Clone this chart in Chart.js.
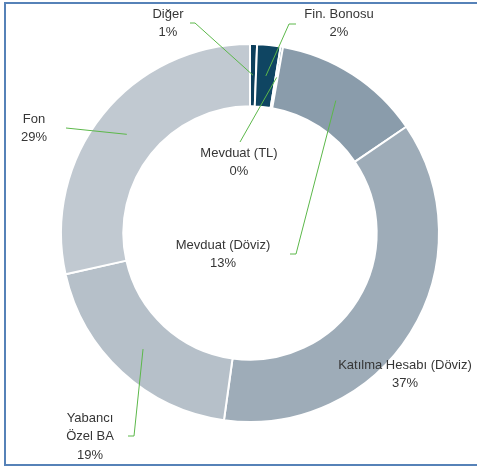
<!DOCTYPE html>
<html>
<head>
<meta charset="utf-8">
<script src="https://cdn.jsdelivr.net/npm/chart.js@4/dist/chart.umd.min.js"></script>
<style>
  body { margin: 0; background: #fff; }
  #wrap { position: relative; width: 477px; height: 473px; overflow: hidden; }
  #frame { position: absolute; left: 4px; top: 2px; width: 520px; height: 464px;
           border: 2px solid #5682b8; box-sizing: border-box; }
  #graphic { position: absolute; left: 0; top: 0; }
</style>
</head>
<body>
<div id="wrap">
  <div id="frame"></div>
  <canvas id="graphic" width="477" height="473"></canvas>
</div>
<script>
// portföy dağılımı (%)
var kategoriler = ['Diğer', 'Fin. Bonosu', 'Mevduat (TL)', 'Mevduat (Döviz)', 'Katılma Hesabı (Döviz)', 'Yabancı Özel BA', 'Fon'];
var oranlar = [0.6, 2.0, 0.2, 12.7, 36.7, 19.3, 28.5];
var renkler = ['#0d3f5c', '#0f4562', '#0f4562', '#8a9cab', '#9eacb8', '#b6c0c9', '#c1c9d1'];

// etiket yerleşimi: satırlar, metin merkezi ve kılavuz çizgisinin kırılma noktaları
var etiketSatirlari = [['Diğer'], ['Fin. Bonosu'], ['Mevduat (TL)'], ['Mevduat (Döviz)'], ['Katılma Hesabı (Döviz)'], ['Yabancı', 'Özel BA'], ['Fon']];
var etiketYeri = [
    {x: 168, y: 14, cizgi: [[190, 23], [195, 23]]},
    {x: 339, y: 14, cizgi: [[296, 24], [289, 24]]},
    {x: 239, y: 153, cizgi: [[240, 142]]},
    {x: 223, y: 245, cizgi: [[290, 254], [296, 254]]},
    {x: 405, y: 365, cizgi: null},
    {x: 90, y: 418, cizgi: [[128, 436], [134, 436]]},
    {x: 34, y: 119, cizgi: [[66, 128]]}
];

var etiketPlugin = {
    id: 'etiketler',
    afterDatasetsDraw: function(chart) {
        var c = chart.ctx;
        var arcs = chart.getDatasetMeta(0).data;
        c.save();
        arcs.forEach(function(arc, i) {
            var p = arc.getProps(['x', 'y', 'startAngle', 'endAngle', 'innerRadius', 'outerRadius'], true);
            var a = (p.startAngle + p.endAngle) / 2;
            var r = (p.innerRadius + p.outerRadius) / 2;
            var yer = etiketYeri[i];
            if (!yer.cizgi) return;
            c.strokeStyle = '#5cb84a';
            c.lineWidth = 1;
            c.beginPath();
            yer.cizgi.forEach(function(n, k) {
                if (k === 0) c.moveTo(n[0], n[1]); else c.lineTo(n[0], n[1]);
            });
            c.lineTo(p.x + Math.cos(a) * r, p.y + Math.sin(a) * r);
            c.stroke();
        });
        c.fillStyle = '#363636';
        c.font = '13px "Liberation Sans", Arial, sans-serif';
        c.textAlign = 'center';
        c.textBaseline = 'middle';
        oranlar.forEach(function(v, i) {
            var satirlar = etiketSatirlari[i].concat([Math.round(v) + '%']);
            satirlar.forEach(function(s, j) {
                c.fillText(s, etiketYeri[i].x, etiketYeri[i].y + j * 18.5);
            });
        });
        c.restore();
    }
};

var chartGraph = new Chart(document.getElementById('graphic'), {
    type: 'doughnut',
    data: {
        labels: kategoriler,
        datasets: [{
            data: oranlar,
            backgroundColor: renkler,
            borderColor: '#ffffff',
            borderWidth: 2,
            hoverOffset: 0
        }]
    },
    options: {
        responsive: false,
        animation: false,
        radius: 189,
        cutout: 126,
        layout: {padding: {left: 61, right: 38, top: 44, bottom: 51}},
        plugins: {
            legend: {display: false},
            tooltip: {enabled: false}
        }
    },
    plugins: [etiketPlugin]
});
</script>
</body>
</html>
